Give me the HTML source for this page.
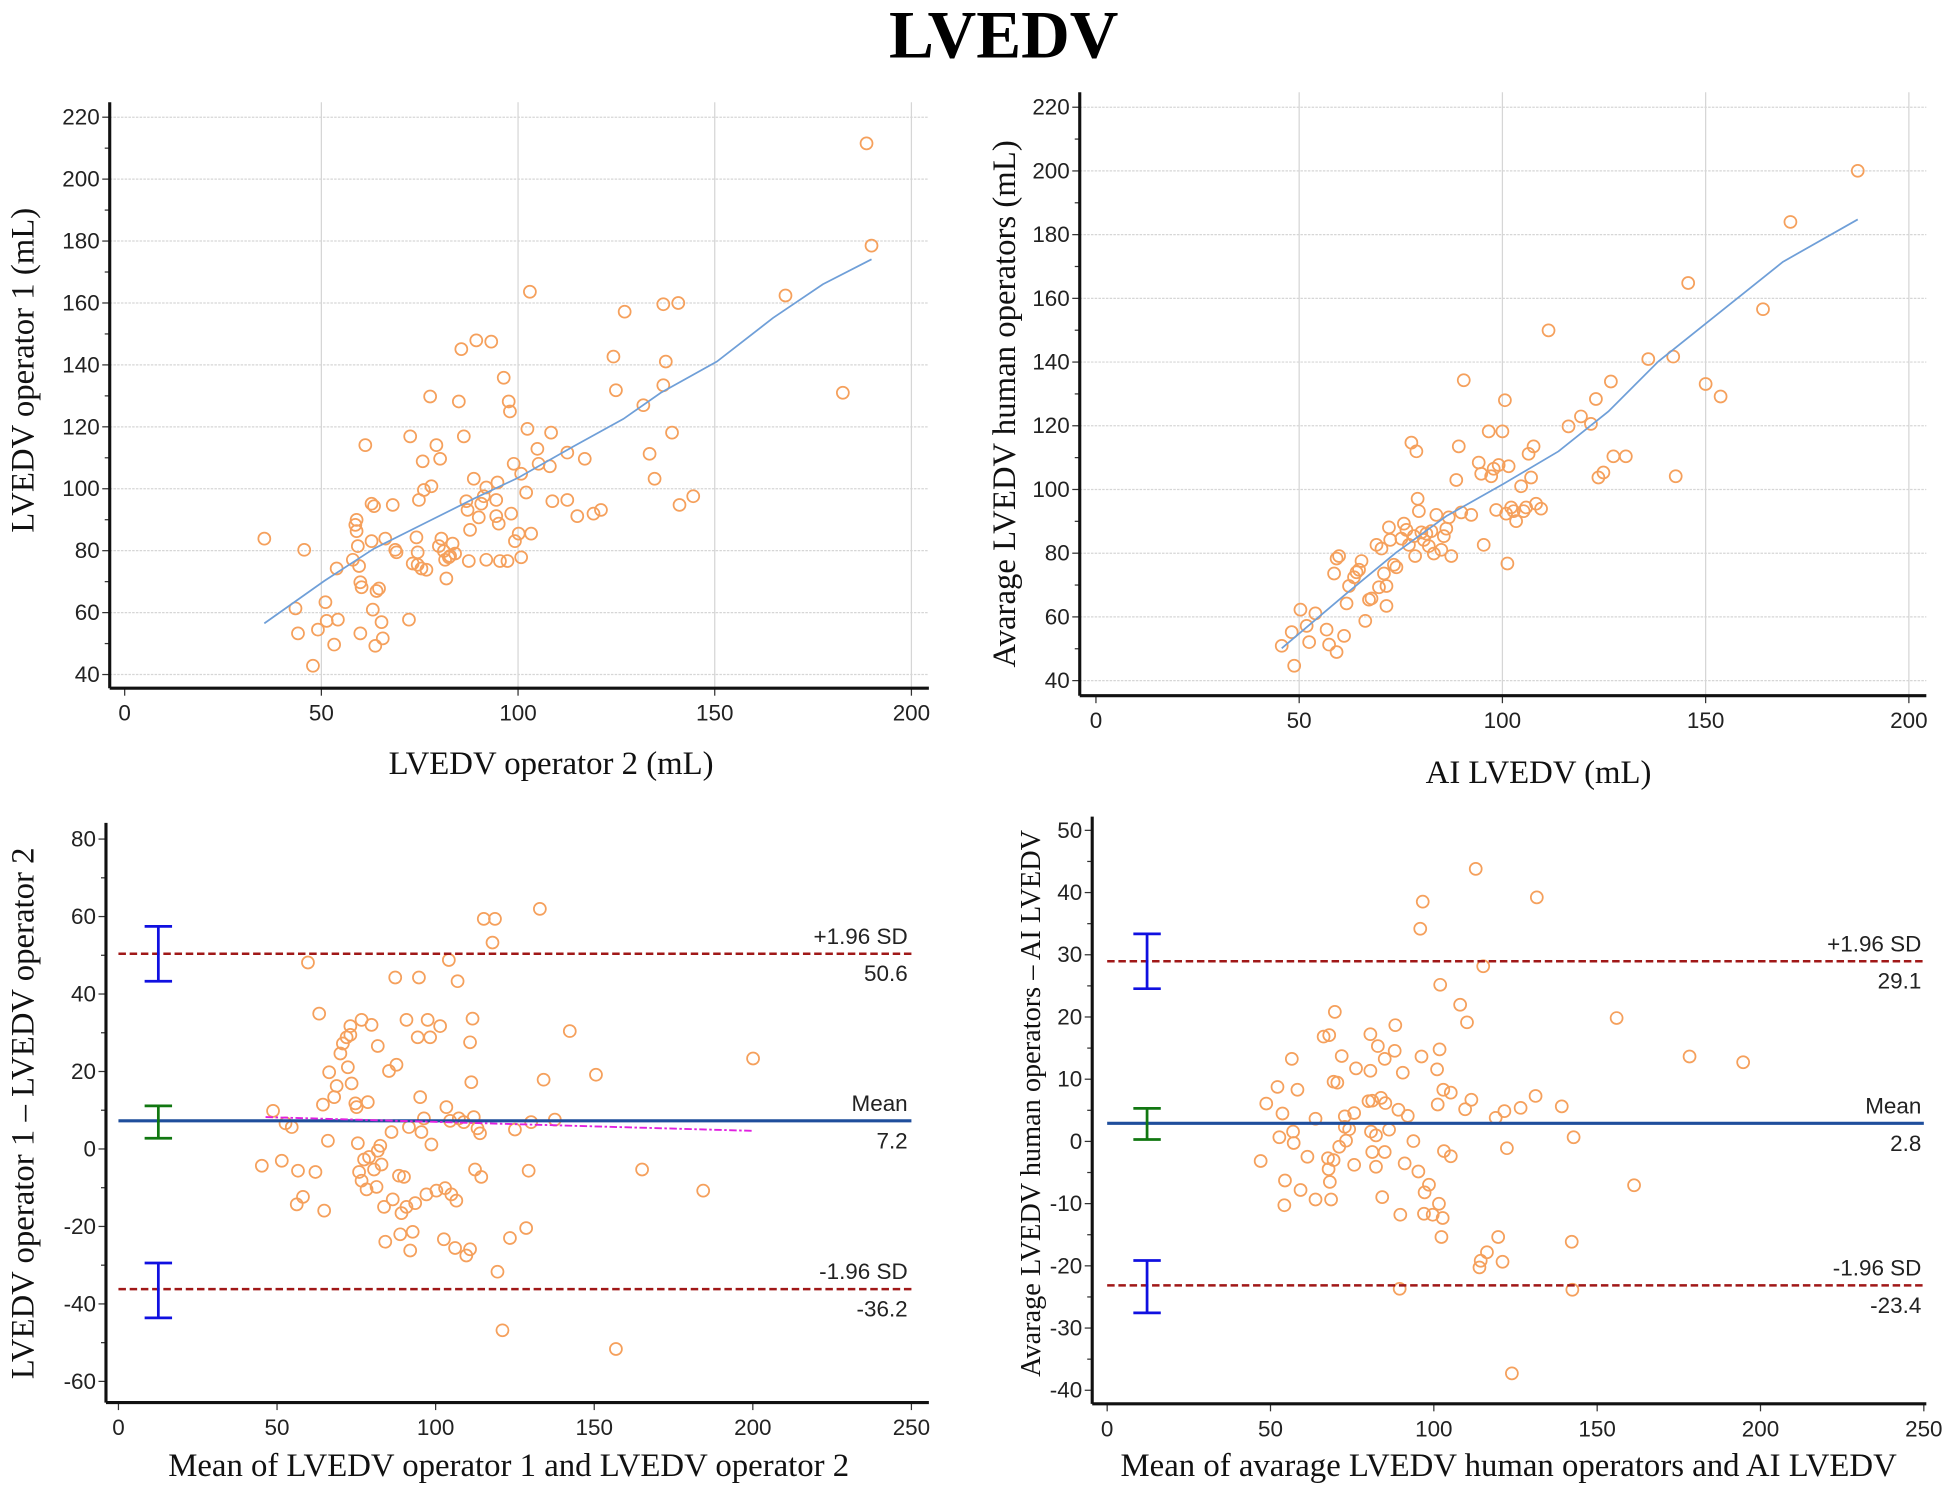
<!DOCTYPE html>
<html><head><meta charset="utf-8"><style>
html,body{margin:0;padding:0;background:#fff}
svg{display:block}
.t{font-family:"Liberation Sans",sans-serif;font-size:18px;fill:#222}
.s{font-family:"Liberation Serif",serif;font-size:26.3px;fill:#111}
</style></head><body>
<svg id="g" width="1955" height="1494" viewBox="0 0 1568 1198.3" preserveAspectRatio="none" xmlns="http://www.w3.org/2000/svg">
<rect width="1568" height="1199" fill="#fff"/>
<text x="805" y="46" text-anchor="middle" style="font-family:'Liberation Serif',serif;font-weight:bold;font-size:54px">LVEDV</text>
</svg>
<script>
var S=document.getElementById('g'),h='';
function L(x1,y1,x2,y2,c,w,d){h+='<line x1="'+x1+'" y1="'+y1+'" x2="'+x2+'" y2="'+y2+'" stroke="'+c+'" stroke-width="'+w+'"'+(d?' stroke-dasharray="'+d+'"':'')+'/>';}
function T(x,y,s,cl,a,ex){h+='<text x="'+x+'" y="'+y+'" class="'+cl+'" text-anchor="'+(a||'middle')+'" '+(ex||'')+'>'+s+'</text>';}
function C(p){p.forEach(function(q){h+='<circle cx="'+q[0]+'" cy="'+q[1]+'" r="4.8" fill="none" stroke="#f5a05c" stroke-width="1.4"/>';});}
function PL(p,c,w,d){h+='<polyline points="'+p.map(function(q){return q.join(',')}).join(' ')+'" fill="none" stroke="'+c+'" stroke-width="'+w+'"'+(d?' stroke-dasharray="'+d+'"':'')+'/>';}
function axes(ax,ay,top,right,yt,xt,grid){
 if(grid){yt.forEach(function(t){L(ax,t[1],right,t[1],'#d6d6d6',1,'2,1');});xt.forEach(function(t){if(t[0]!='0')L(t[1],top,t[1],ay,'#d6d6d6',1);});}
 for(var i=0;i<yt.length;i++){L(ax-6,yt[i][1],ax,yt[i][1],'#333',1);T(ax-8,yt[i][1]+6,yt[i][0],'t','end');
  if(i<yt.length-1){var m=(yt[i][1]+yt[i+1][1])/2;L(ax-4,m,ax,m,'#333',1);}}
 xt.forEach(function(t){L(t[1],ay,t[1],ay+6,'#333',1);T(t[1],ay+26,t[0],'t');});
 L(ax,top,ax,ay,'#111',2.5);L(ax,ay,right,ay,'#111',2.5);
}
function ticks(vals,p0,step,dir){return vals.map(function(v,i){return [v,p0+dir*i*step];});}
var y1=ticks(['220','200','180','160','140','120','100','80','60','40'],94,49.67,1);
var x1=ticks(['0','50','100','150','200'],100,157.75,1);
axes(88,552,82,745,y1,x1,true);
T(442,621,'LVEDV operator 2 (mL)','s');
T(0,0,'LVEDV operator 1 (mL)','s','middle','transform="translate(27,297) rotate(-90)"');
C([[212,432],[244,441],[237,488],[239,508],[251,534],[255,505],[261,483],[262,498],[270,456],[271,497],[268,517],[283,449],[285,421],[286,417],[286,426],[287,438],[288,454],[289,467],[290,471],[289,508],[293,357],[298,434],[298,404],[300,406],[301,518],[302,474],[299,489],[304,472],[306,499],[307,512],[309,432],[315,405],[317,441],[318,443],[329,350],[328,497],[331,452],[334,431],[335,443],[335,453],[336,401],[338,456],[339,370],[340,393],[342,457],[345,318],[346,390],[350,357],[352,438],[353,368],[354,432],[356,442],[357,449],[358,464],[360,447],[361,446],[363,436],[365,444],[370,280],[368,322],[372,350],[374,402],[375,409],[376,450],[377,425],[380,384],[382,273],[384,415],[386,404],[388,398],[390,449],[390,391],[394,274],[398,401],[398,414],[399,387],[400,420],[401,450],[404,303],[407,450],[408,322],[409,330],[410,412],[412,372],[413,434],[416,428],[418,380],[418,447],[422,395],[423,344],[425,234],[426,428],[431,360],[432,372],[441,374],[442,347],[443,402],[455,363],[455,401],[463,414],[469,368],[476,412],[482,409],[492,286],[494,313],[501,250],[516,325],[521,364],[525,384],[532,244],[532,309],[534,290],[539,347],[544,243],[545,405],[556,398],[630,237],[676,315],[695,115],[699,197]]);
PL([[212,500],[260,466],[300,440],[340,420],[380,400],[416,383],[460,358],[500,336],[530,315],[575,290],[620,255],[660,228],[699,208]],'#6f9fd8',1.4);
var y2=ticks(['220','200','180','160','140','120','100','80','60','40'],86,51.1,1);
var x2=ticks(['0','50','100','150','200'],879,163,1);
axes(866,558,74,1545,y2,x2,true);
T(1234,628,'AI LVEDV (mL)','s');
T(0,0,'Avarage LVEDV human operators (mL)','s','middle','transform="translate(814,324) rotate(-90)"');
C([[1028,518],[1036,507],[1038,534],[1043,489],[1048,502],[1050,515],[1055,492],[1064,505],[1066,517],[1070,460],[1072,448],[1074,446],[1072,523],[1078,510],[1080,484],[1082,470],[1086,463],[1088,459],[1090,457],[1092,450],[1095,498],[1098,481],[1100,480],[1104,437],[1106,471],[1108,440],[1110,460],[1112,486],[1112,470],[1114,423],[1115,433],[1118,453],[1120,455],[1124,432],[1126,420],[1128,425],[1130,437],[1132,355],[1134,430],[1135,446],[1136,362],[1137,400],[1138,410],[1140,427],[1142,433],[1144,428],[1146,438],[1148,426],[1150,444],[1152,413],[1156,441],[1158,430],[1160,424],[1162,415],[1164,446],[1168,385],[1170,358],[1172,411],[1174,305],[1180,413],[1186,371],[1188,380],[1190,437],[1194,346],[1196,382],[1198,376],[1200,409],[1202,373],[1205,346],[1207,321],[1208,412],[1209,452],[1210,374],[1212,407],[1214,410],[1216,418],[1220,390],[1222,410],[1224,407],[1226,364],[1228,383],[1230,358],[1232,404],[1236,408],[1242,265],[1258,342],[1268,334],[1276,340],[1280,320],[1282,383],[1286,379],[1292,306],[1294,366],[1304,366],[1322,288],[1342,286],[1344,382],[1354,227],[1368,308],[1380,318],[1414,248],[1436,178],[1490,137]]);
PL([[1028,520],[1080,476],[1120,443],[1160,414],[1206,388],[1250,362],[1290,330],[1330,290],[1380,250],[1430,210],[1490,176]],'#6f9fd8',1.4);
function eb(x,a,b,c){L(x,a,x,b,c,2.2);L(x-11,a,x+11,a,c,2.2);L(x-11,b,x+11,b,c,2.2);}
var y3=ticks(['80','60','40','20','0','-20','-40','-60'],673,62.14,1);
var x3=ticks(['0','50','100','150','200','250'],95,127.2,1);
axes(85,1125,660,745,y3,x3,false);
C([[210,935],[219,891],[226,931],[229,901],[234,904],[239,939],[238,966],[243,960],[247,772],[253,940],[256,813],[259,886],[260,971],[263,915],[264,860],[268,880],[270,871],[273,845],[275,837],[278,832],[279,856],[281,823],[281,830],[282,869],[285,885],[286,888],[287,917],[288,940],[290,947],[290,818],[292,930],[294,954],[295,884],[296,928],[298,822],[300,938],[302,952],[303,839],[303,923],[305,919],[306,934],[308,968],[309,996],[312,859],[314,908],[315,962],[317,784],[318,854],[320,943],[321,990],[322,973],[324,944],[326,968],[326,818],[328,904],[329,1003],[331,988],[333,965],[335,832],[336,784],[337,880],[338,908],[340,897],[342,958],[343,818],[345,832],[346,918],[350,955],[353,823],[356,994],[357,953],[358,888],[360,770],[361,899],[362,958],[365,1001],[366,963],[367,787],[368,897],[372,900],[374,1007],[377,836],[377,1002],[378,868],[379,817],[380,896],[381,938],[383,905],[385,909],[386,944],[388,737],[395,756],[397,737],[399,1020],[403,1067],[409,993],[413,906],[422,985],[424,939],[426,900],[433,729],[436,866],[445,898],[457,827],[478,862],[494,1082],[515,938],[564,955],[604,849]]);
L(95,765,731,765,'#a01818',2,'6,3');L(95,1034,731,1034,'#a01818',2,'6,3');
L(95,899,731,899,'#1f4e9c',2.5);
PL([[213,896],[603,907]],'#e020e0',1.5,'6,2,2,2');
eb(127,743,787,'#1010e0');eb(127,887,913,'#117711');eb(127,1013,1057,'#1010e0');
T(728,757,'+1.96 SD','t','end');T(728,787,'50.6','t','end');T(728,891,'Mean','t','end');T(728,921,'7.2','t','end');T(728,1026,'-1.96 SD','t','end');T(728,1056,'-36.2','t','end');
T(408,1184,'Mean of LVEDV operator 1 and LVEDV operator 2','s');
T(0,0,'LVEDV operator 1 – LVEDV operator 2','s','middle','transform="translate(27,893) rotate(-90)"');
var y4=ticks(['50','40','30','20','10','0','-10','-20','-30','-40'],666,49.9,1);
var x4=ticks(['0','50','100','150','200','250'],888,131,1);
axes(876,1126,655,1545,y4,x4,false);
var z=[[800,257],[715,326],[898,317],[711,383],[812,462],[743,501],[775,543],[786,580],[1026,571],[574,558],[556,610],[565,607],[631,605],[671,586],[643,630],[654,657],[670,640],[713,652],[742,637],[505,657],[585,651],[608,677],[631,682],[683,686],[738,679],[482,716],[514,722],[464,751],[572,705],[578,707],[490,772],[543,783],[590,778],[605,771],[628,746],[634,745],[648,739],[655,750],[676,764],[691,777],[739,753],[748,722],[760,728],[783,763],[793,743],[832,781],[846,767],[872,760],[896,735],[938,757],[1143,652],[1229,664],[507,810],[590,800],[597,805],[485,822],[508,834],[581,842],[592,829],[632,810],[640,818],[661,806],[700,830],[749,851],[760,862],[850,845],[957,822],[455,872],[530,863],[563,866],[572,870],[564,889],[605,880],[634,853],[640,884],[654,853],[686,877],[708,894],[725,922],[718,938],[494,913],[519,933],[543,953],[568,953],[566,916],[650,948],[679,985],[717,983],[731,985],[741,962],[747,992],[745,1032],[493,965],[836,1032],[818,1064],[808,1082],[806,1096],[843,1084],[954,1042],[1054,923],[678,1141],[955,1143],[858,1319]];
C(z.map(function(q){return [783.6+q[0]/2,599+q[1]*0.381];}));
L(888,771,1543,771,'#a01818',2,'6,3');L(888,1031,1543,1031,'#a01818',2,'6,3');
L(888,901,1543,901,'#1f4e9c',2.5);
eb(920,749,793,'#1010e0');eb(920,889,914,'#117711');eb(920,1011,1053,'#1010e0');
T(1541,763,'+1.96 SD','t','end');T(1541,793,'29.1','t','end');T(1541,893,'Mean','t','end');T(1541,923,'2.8','t','end');T(1541,1023,'-1.96 SD','t','end');T(1541,1053,'-23.4','t','end');
T(1210,1184,'Mean of avarage LVEDV human operators and AI LVEDV','s');
T(0,0,'Avarage LVEDV human operators – AI LVEDV','s','middle','transform="translate(834,885) rotate(-90)" style="font-size:22.7px"');
S.insertAdjacentHTML('beforeend',h);
</script>
</body></html>
